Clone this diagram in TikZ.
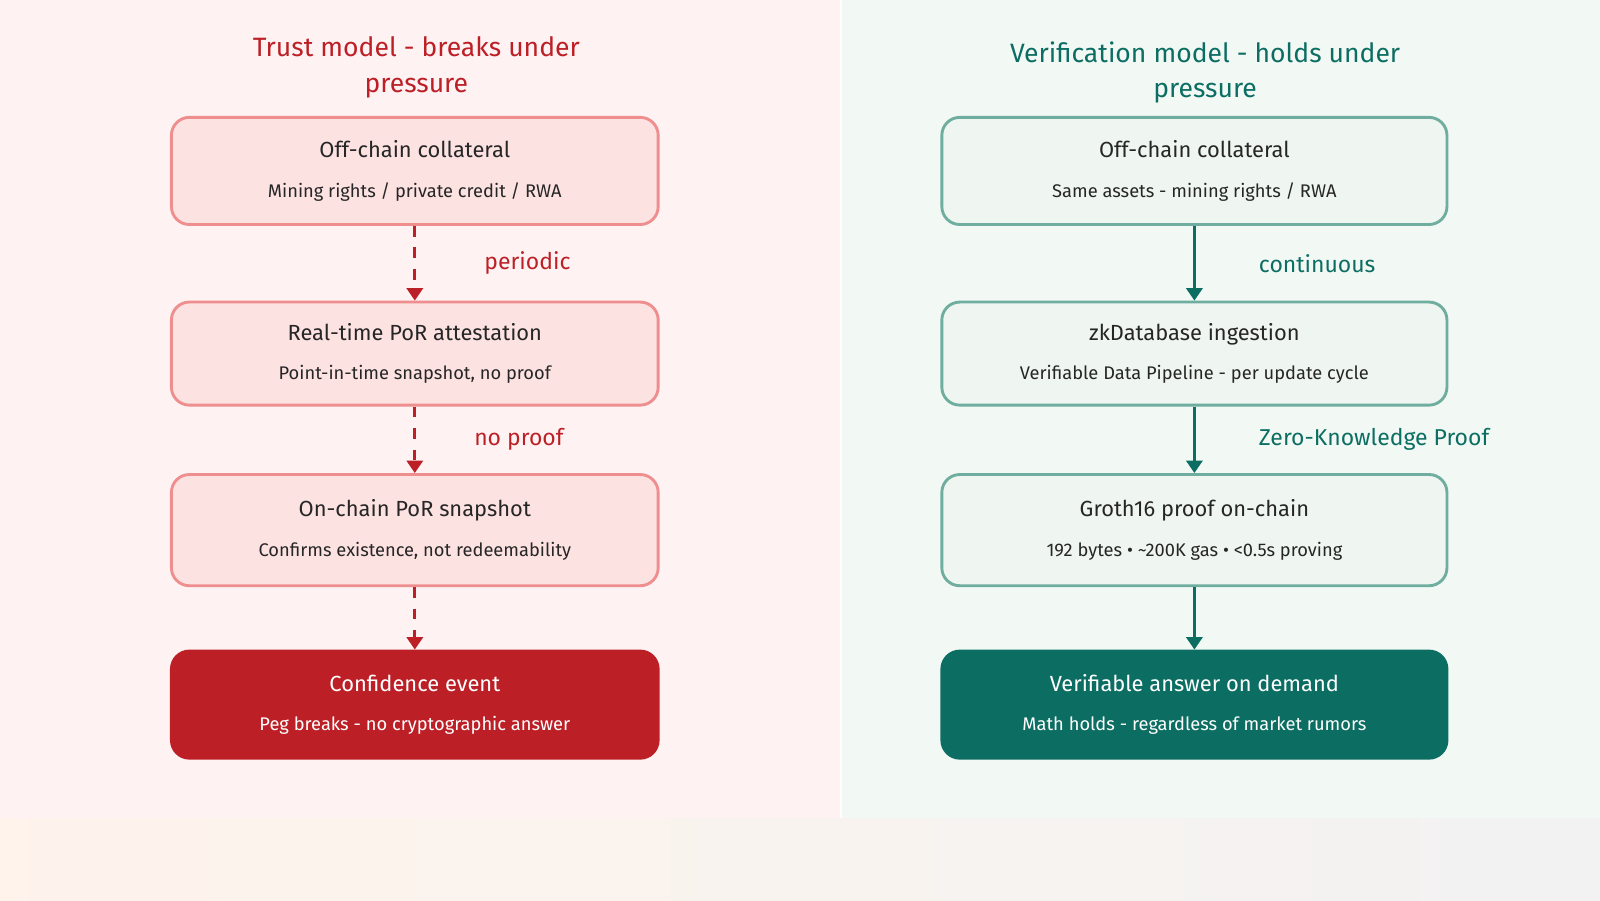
\documentclass[tikz,border=0pt]{standalone}
\usepackage{fontspec}
\setmainfont{Fira Sans}
\usetikzlibrary{arrows.meta}
\definecolor{trustred}{HTML}{BC2026}
\definecolor{trustline}{HTML}{EE8E8E}
\definecolor{trustfill}{HTML}{FDE2E2}
\definecolor{verigreen}{HTML}{0C6E62}
\definecolor{veriline}{HTML}{6FAE9F}
\definecolor{verifill}{HTML}{EFF6F1}
\tikzset{
  box/.style={draw, line width=0.8pt, rounded corners=5pt, minimum width=4.77cm, align=center, inner sep=0pt},
  redbox/.style={box, draw=trustline, fill=trustfill, text=black!85},
  greenbox/.style={box, draw=veriline, fill=verifill, text=black!85, minimum width=4.95cm},
  head/.style={font=\fontsize{7.4}{10}\selectfont, align=center},
  lab/.style={font=\fontsize{6.4}{8}\selectfont},
  flow/.style={-{Triangle[length=3.5pt,width=4.5pt]}, line width=0.9pt},
}
\newcommand{\boxtext}[2]{{\fontsize{6.1}{7}\selectfont #1}\\[-1pt]{\fontsize{5.1}{6}\selectfont #2}}
\begin{document}
\begin{tikzpicture}[x=1cm,y=-1cm]
    % background
    \fill[white] (0,0) rectangle (15.68,8.82);
    \fill[trustfill!45] (0,0) rectangle (8.23,8.02);
    \fill[verifill!80] (8.25,0) rectangle (15.68,8.02);
    \fill[left color=trustfill!70!orange!20, right color=white!95!black] (0,8.02) rectangle (15.68,8.82);
    \useasboundingbox (0,0) rectangle (15.68,8.82);

    % titles
    \node[head, text=trustred] (ttrust) at (4.08,0.66) {Trust model - breaks under\\pressure};
    \node[head, text=verigreen] (tveri) at (11.81,0.71) {Verification model - holds under\\pressure};

    % trust column
    \node[redbox, minimum height=1.05cm] (t1) at (4.065,1.675) {\boxtext{Off-chain collateral}{Mining rights / private credit / RWA}};
    \node[redbox, minimum height=1.01cm] (t2) at (4.065,3.465) {\boxtext{Real-time PoR attestation}{Point-in-time snapshot, no proof}};
    \node[redbox, minimum height=1.09cm] (t3) at (4.065,5.195) {\boxtext{On-chain PoR snapshot}{Confirms existence, not redeemability}};
    \node[box, draw=trustred, fill=trustred, text=white, minimum height=1.05cm] (t4) at (4.065,6.905) {\boxtext{Confidence event}{Peg breaks - no cryptographic answer}};

    \draw[flow, trustred, dashed] (t1) -- (t2) node[midway, right=0.55cm, lab] {periodic};
    \draw[flow, trustred, dashed] (t2) -- (t3) node[midway, right=0.45cm, lab] {no proof};
    \draw[flow, trustred, dashed] (t3) -- (t4);

    % verification column
    \node[greenbox, minimum height=1.05cm] (v1) at (11.705,1.675) {\boxtext{Off-chain collateral}{Same assets - mining rights / RWA}};
    \node[greenbox, minimum height=1.01cm] (v2) at (11.705,3.465) {\boxtext{zkDatabase ingestion}{Verifiable Data Pipeline - per update cycle}};
    \node[greenbox, minimum height=1.09cm] (v3) at (11.705,5.195) {\boxtext{Groth16 proof on-chain}{192 bytes • \textasciitilde200K gas • <0.5s proving}};
    \node[greenbox, draw=verigreen, fill=verigreen, text=white, minimum height=1.05cm] (v4) at (11.705,6.905) {\boxtext{Verifiable answer on demand}{Math holds - regardless of market rumors}};

    \draw[flow, verigreen] (v1) -- (v2) node[midway, right=0.5cm, lab] {continuous};
    \draw[flow, verigreen] (v2) -- (v3) node[midway, right=0.5cm, lab] {Zero-Knowledge Proof};
    \draw[flow, verigreen] (v3) -- (v4);
\end{tikzpicture}
\end{document}
